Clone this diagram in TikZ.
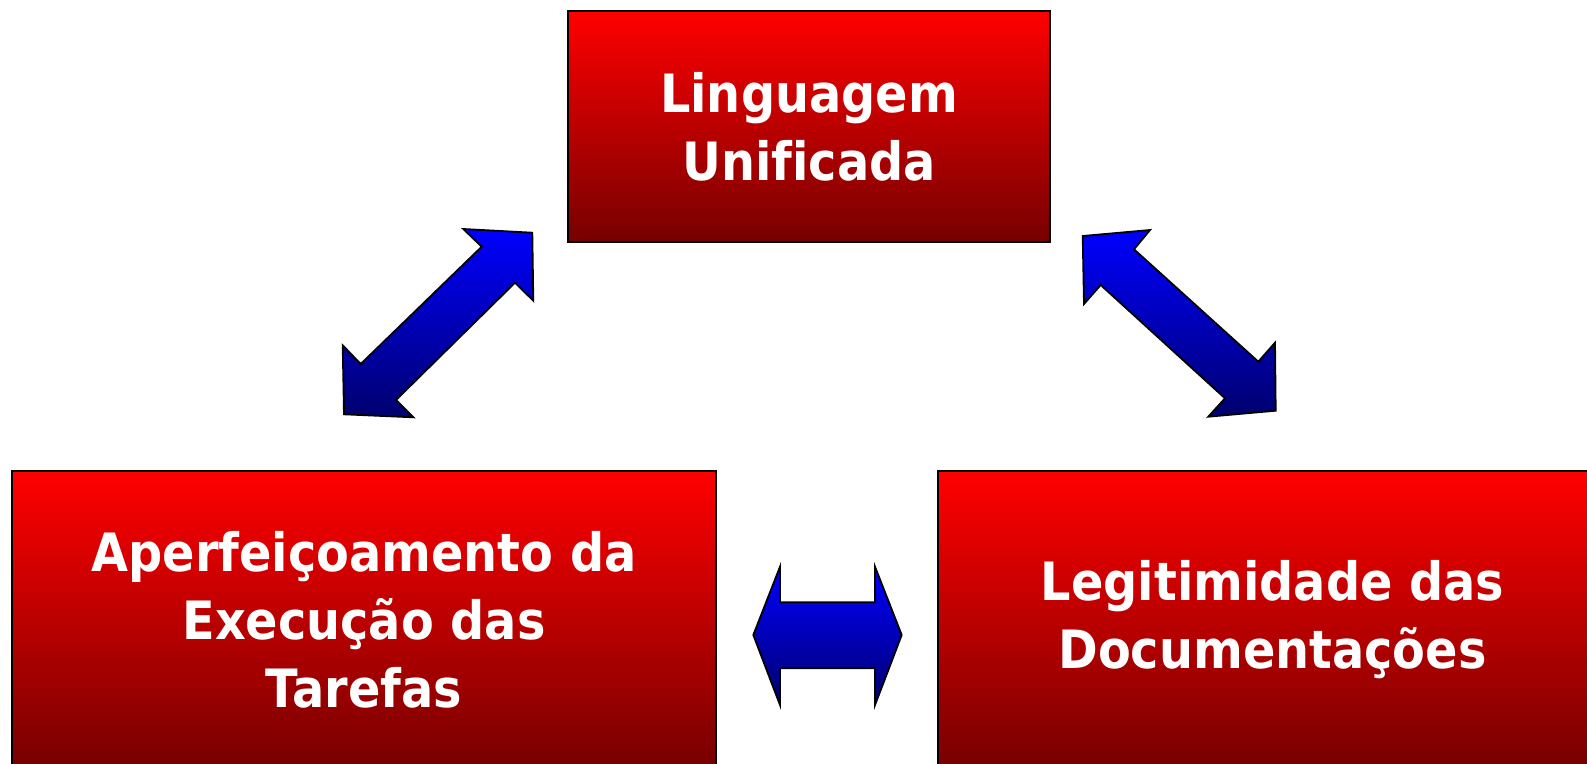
\documentclass[tikz,border=0pt]{standalone}
\usepackage{fontspec}
\newfontfamily\boxfont{DejaVu Sans}[FakeStretch=0.905, Ligatures=NoCommon]
\definecolor{redtop}{RGB}{255,0,0}
\definecolor{redbot}{RGB}{118,0,0}
\definecolor{bluetop}{RGB}{0,0,255}
\definecolor{bluebot}{RGB}{0,0,110}
\tikzset{
  box/.style={draw=black, line width=1.8pt, top color=redtop, bottom color=redbot,
    inner sep=0pt, text=white, align=center,
    font=\boxfont\bfseries\fontsize{52.8}{68}\selectfont},
  blockarrow/.style={draw=black, line width=1.8pt, line join=miter,
    top color=bluetop, bottom color=bluebot}
}
\begin{document}
\begin{tikzpicture}[x=1pt,y=-1pt]
\clip (0,0) rectangle (1587,763);
\fill[white] (0,0) rectangle (1587,763);
\node[box, minimum width=482pt, minimum height=231pt] (lu) at (809,126.5) {Linguagem\\Unificada};
\node[box, minimum width=704pt, minimum height=298pt] (ae) at (364,620) {Aperfeiçoamento da\\Execução das\\Tarefas};
\node[box, minimum width=669pt, minimum height=298pt] (ld) at (1272.5,620) {Legitimidade das\\Documentações};
% left diagonal double arrow
\path[blockarrow] (463.3,229) -- (532.3,232.7) -- (533.3,300.7) -- (515,282.7) -- (396,400) -- (413.3,417.3) -- (344,414.3) -- (342.7,345.3) -- (360.7,364) -- (481.7,246.7) -- cycle;
% right diagonal double arrow
\path[blockarrow] (1150,230) -- (1082.7,236) -- (1084,304) -- (1100.7,285) -- (1225,398.3) -- (1208.3,416.7) -- (1275.7,410.7) -- (1275,342.7) -- (1258.3,361.7) -- (1134,249.3) -- cycle;
% horizontal double arrow
\path[blockarrow] (753.3,635) -- (780,566.7) -- (780,602.3) -- (875,602.3) -- (875,566.7) -- (901.7,635) -- (875,705) -- (875,668.3) -- (780,668.3) -- (780,705) -- cycle;
\end{tikzpicture}
\end{document}
